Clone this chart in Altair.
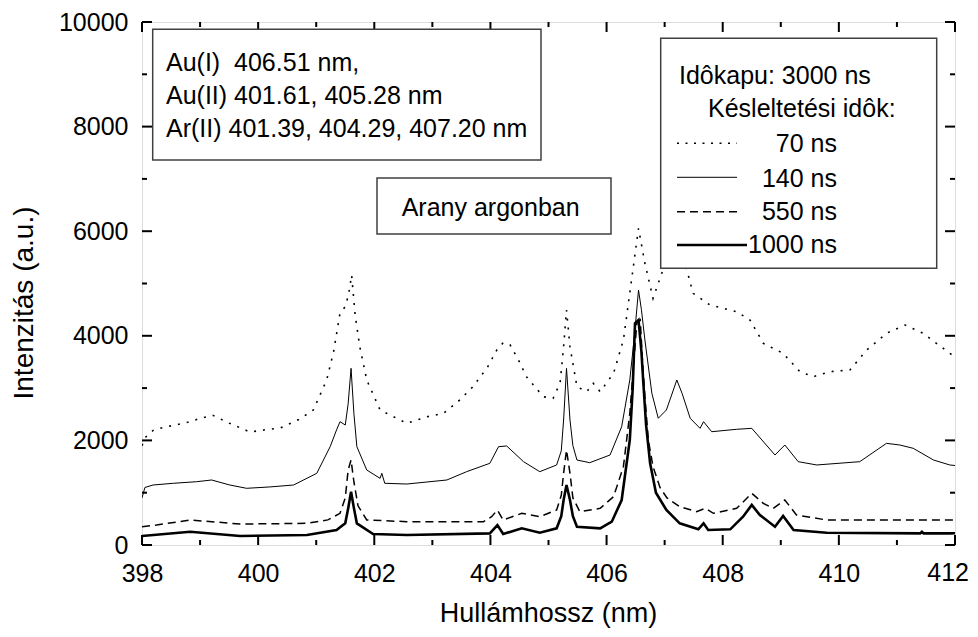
import altair as alt
import pandas as pd

# ---- data ----
x_70 = [398.00, 398.05, 398.2, 398.43, 398.6, 398.8, 399.0, 399.22, 399.5, 399.86, 400.1, 400.38, 400.7,
        400.95, 401.18, 401.3, 401.41, 401.5, 401.56, 401.61, 401.67, 401.75, 401.87, 402.1, 402.56, 402.9,
        403.19, 403.45, 403.70, 403.95, 404.11, 404.22, 404.34, 404.5, 404.62, 404.91, 405.08, 405.2, 405.26,
        405.31, 405.37, 405.49, 405.66, 405.77, 405.89, 406.12, 406.29, 406.43, 406.55, 406.66, 406.80, 406.95,
        407.1, 407.2, 407.3, 407.49, 407.78, 408.24, 408.47, 408.70, 409.04, 409.33, 409.56, 409.85, 410.19,
        410.48, 410.82, 411.14, 411.45, 411.91, 412.0]
y_70 = [1900, 2050, 2200, 2262, 2300, 2350, 2420, 2480, 2330, 2160, 2200, 2237, 2400,
        2581, 3155, 3700, 4436, 4557, 4800, 5162, 4400, 3792, 3155, 2581, 2327, 2450,
        2518, 2750, 3027, 3400, 3728, 3868, 3824, 3500, 3218, 2835, 2805, 3100, 3792,
        4493, 3792, 3027, 2931, 3092, 2931, 3283, 3920, 5067, 6055, 5386, 4717, 5195,
        5600, 5800, 5600, 4812, 4589, 4461, 4302, 3856, 3665, 3314, 3218, 3314, 3346,
        3728, 4048, 4206, 4048, 3665, 3600]

x_140 = [398.00, 398.05, 398.19, 398.54, 398.94, 399.2, 399.5, 399.80, 400.2, 400.61, 401.01, 401.24, 401.35,
         401.41, 401.50, 401.55, 401.60, 401.65, 401.70, 401.87, 402.10, 402.13, 402.18, 402.56, 403.25, 403.59,
         403.99, 404.14, 404.28, 404.57, 404.85, 405.14, 405.22, 405.26, 405.31, 405.37, 405.42, 405.49, 405.71,
         406.06, 406.26, 406.40, 406.48, 406.55, 406.60, 406.66, 406.78, 406.89, 407.03, 407.21, 407.30, 407.44,
         407.61, 407.67, 407.81, 408.24, 408.50, 408.90, 409.07, 409.30, 409.62, 410.36, 410.82, 411.05, 411.28,
         411.63, 411.91, 412.0]
y_140 = [900, 1100, 1147, 1180, 1210, 1243, 1150, 1084, 1110, 1147, 1371, 1880, 2200,
         2358, 2294, 2700, 3378, 2500, 1880, 1434, 1275, 1371, 1180, 1166, 1243, 1402,
         1562, 1880, 1893, 1593, 1402, 1530, 1800, 2390, 3378, 2390, 1900, 1625, 1574,
         1721, 2262, 3155, 4000, 4876, 4500, 3920, 2900, 2423, 2581, 3155, 2900, 2423,
         2231, 2358, 2166, 2212, 2231, 1721, 1912, 1593, 1530, 1593, 1944, 1912, 1849,
         1625, 1530, 1520]

x_550 = [398.00, 398.25, 398.83, 399.69, 400.84, 401.2, 401.41, 401.50, 401.55, 401.60, 401.65, 401.72, 401.87,
         402.56, 403.88, 404.02, 404.12, 404.22, 404.54, 404.85, 405.14, 405.22, 405.26, 405.31, 405.37, 405.42,
         405.54, 405.89, 406.12, 406.29, 406.40, 406.47, 406.52, 406.58, 406.62, 406.66, 406.72, 406.80, 406.92,
         407.04, 407.26, 407.55, 407.70, 407.84, 408.24, 408.50, 408.70, 408.87, 409.07, 409.27, 409.79, 411.91,
         412.0]
y_550 = [350, 382, 478, 401, 414, 480, 606, 900, 1434, 1625, 1200, 750, 478,
         446, 446, 541, 669, 478, 606, 541, 669, 950, 1371, 1816, 1371, 900,
         637, 701, 924, 1497, 2518, 3500, 4239, 4302, 3500, 2835, 2000, 1497, 1100,
         900, 732, 637, 701, 606, 701, 988, 797, 701, 860, 574, 478, 478,
         480]

x_1000 = [398.00, 398.83, 399.69, 400.84, 401.35, 401.50, 401.55, 401.60, 401.65, 401.70, 401.98, 402.56, 403.99,
          404.12, 404.22, 404.54, 404.85, 405.14, 405.22, 405.26, 405.31, 405.37, 405.42, 405.49, 405.89, 406.09,
          406.26, 406.40, 406.45, 406.49, 406.55, 406.60, 406.63, 406.68, 406.75, 406.85, 407.03, 407.26, 407.58,
          407.67, 407.75, 408.13, 408.35, 408.50, 408.64, 408.90, 409.04, 409.22, 409.79, 411.40, 411.43, 411.46,
          411.91, 412.0]
y_1000 = [172, 254, 172, 191, 287, 414, 700, 1019, 700, 414, 210, 191, 223,
          382, 210, 319, 235, 319, 550, 860, 1147, 860, 550, 350, 319, 446,
          860, 2008, 3000, 4239, 4302, 3700, 3155, 2300, 1562, 1000, 669, 414, 300,
          414, 287, 300, 541, 765, 574, 350, 555, 287, 235, 223, 254, 223,
          223, 225]

x_labels = [398, 400, 402, 404, 406, 408, 410]
x_last = [412]
x_major = x_labels + x_last
x_minor = [399, 401, 403, 405, 407, 409, 411]
y_labels = [0, 2000, 4000, 6000, 8000, 10000]
y_minor = [1000, 3000, 5000, 7000, 9000]

info_lines = ["Au(I)\u00a0 406.51 nm,", "Au(II) 401.61, 405.28 nm", "Ar(II) 401.39, 404.29, 407.20 nm"]
title_text = "Arany argonban"
legend_head = ["Idôkapu: 3000 ns", "Késleltetési idôk:"]
series_names = ["70 ns", "140 ns", "550 ns", "1000 ns"]

FONT = "Liberation Sans"
W, H = 813, 523

xscale = alt.Scale(domain=[398, 412], nice=False, zero=False)
yscale = alt.Scale(domain=[0, 10000], nice=False, zero=False)
xaxis = alt.Axis(values=x_labels, tickSize=0, domain=False, grid=False, labelFontSize=25,
                 labelPadding=16, title=None, labelFont=FONT, labelColor="black", labelFlush=False,
                 format="d")
yaxis = alt.Axis(values=y_labels, tickSize=0, domain=False, grid=False, labelFontSize=25,
                 labelPadding=14, title=None, labelFont=FONT, labelColor="black", labelFlush=False,
                 format="d")


def X(field="x"):
    return alt.X(f"{field}:Q", scale=xscale, axis=xaxis)


def Y(field="y"):
    return alt.Y(f"{field}:Q", scale=yscale, axis=yaxis)


def line_layer(xs, ys, width, dash=None):
    kw = dict(color="black", strokeWidth=width, clip=True)
    if dash:
        kw["strokeDash"] = dash
    return alt.Chart(pd.DataFrame({"x": xs, "y": ys})).mark_line(**kw).encode(x=X(), y=Y())


layers = [
    line_layer(x_70, y_70, 1.6, [2, 7]),
    line_layer(x_140, y_140, 1.0),
    line_layer(x_550, y_550, 1.5, [8, 5]),
    line_layer(x_1000, y_1000, 2.6),
]


# ticks pointing inward on all four sides
def xticks(vals, length):
    d = pd.DataFrame({"x": vals})
    bot = alt.Chart(d).mark_rule(color="black", strokeWidth=2).encode(
        x=X(), y=alt.value(H), y2=alt.value(H - length))
    top = alt.Chart(d).mark_rule(color="black", strokeWidth=2).encode(
        x=X(), y=alt.value(0), y2=alt.value(length))
    return [bot, top]


def yticks(vals, length):
    d = pd.DataFrame({"y": vals})
    left = alt.Chart(d).mark_rule(color="black", strokeWidth=2).encode(
        y=Y(), x=alt.value(0), x2=alt.value(length))
    right = alt.Chart(d).mark_rule(color="black", strokeWidth=2).encode(
        y=Y(), x=alt.value(W), x2=alt.value(W - length))
    return [left, right]


layers += xticks(x_major, 10) + xticks(x_minor, 5) + yticks(y_labels, 10) + yticks(y_minor, 5)

# last x label, kept inside the page edge
layers.append(
    alt.Chart(pd.DataFrame({"x": x_last, "t": [str(v) for v in x_last]})).mark_text(
        align="right", baseline="alphabetic", font=FONT, fontSize=25, color="black", dx=14
    ).encode(x=X(), y=alt.value(H + 36), text="t:N")
)

one = pd.DataFrame({"a": [0]})


def box(x1, x2, y1, y2):
    return alt.Chart(one).mark_rect(fill="white", stroke="#404040", strokeWidth=1.5).encode(
        x=alt.value(x1), x2=alt.value(x2), y=alt.value(y1), y2=alt.value(y2))


def text(t, x, y, align="left", size=25, angle=0):
    kw = dict(text=t, align=align, baseline="alphabetic", font=FONT, fontSize=size, color="black")
    if angle:
        kw["angle"] = angle
    return alt.Chart(one).mark_text(**kw).encode(x=alt.value(x), y=alt.value(y))


def sample(x1, x2, y, width, dash=None):
    kw = dict(color="black", strokeWidth=width)
    if dash:
        kw["strokeDash"] = dash
    return alt.Chart(one).mark_rule(**kw).encode(x=alt.value(x1), x2=alt.value(x2), y=alt.value(y))


# info box (top left)
layers.append(box(10.7, 399, 7.3, 138))
for i, t in enumerate(info_lines):
    layers.append(text(t, 24, 48.7 + i * 33.3))

# title box
layers.append(box(235, 469, 156, 212))
layers.append(text(title_text, 259.7, 194))

# legend box
layers.append(box(518.7, 794.7, 16.3, 246.3))
layers.append(text(legend_head[0], 537, 62))
layers.append(text(legend_head[1], 566, 94.7))
samples = [([2, 6.5], 1.6, 595), (None, 1.0, 595), ([8, 5], 1.5, 595), (None, 2.6, 605)]
for i, (nm, (dash, wdt, xe)) in enumerate(zip(series_names, samples)):
    ys = [121.3, 155.3, 189.7, 223][i]
    yb = [129.7, 164.7, 198, 231][i]
    layers.append(sample(535, xe, ys, wdt, dash))
    layers.append(text(nm, 695, yb, align="right"))

# axis titles
layers.append(text("Hullámhossz (nm)", W / 2, 600, align="center", size=27))
layers.append(text("Intenzitás (a.u.)", -109, 281, align="center", size=28, angle=270))

chart = alt.layer(*layers).properties(
    width=W, height=H, autosize="none",
    padding={"left": 134, "top": 14, "right": 15, "bottom": 84},
).configure_view(stroke="black", strokeWidth=2).configure(background="white")

chart.save("out.html", embed_options={"renderer": "svg", "actions": False})
